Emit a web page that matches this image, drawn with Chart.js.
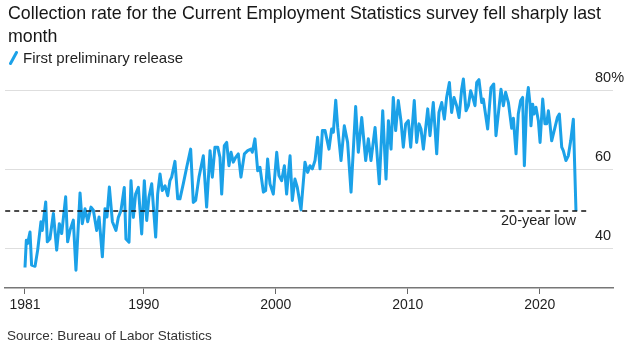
<!DOCTYPE html>
<html>
<head>
<meta charset="utf-8">
<script src="https://cdn.jsdelivr.net/npm/chart.js@4.4.1/dist/chart.umd.min.js"></script>
<style>
  html, body { margin: 0; padding: 0; background: #fff; }
  body { width: 629px; height: 348px; position: relative; overflow: hidden;
         font-family: "Liberation Sans", Arial, sans-serif; color: #1b1b1b; }
  #chart { position: absolute; left: 0; top: 0; }
  #title { position: absolute; left: 8px; top: 2px; width: 612px; font-size: 17.8px; line-height: 23px; color: #161616; }
  #legend { position: absolute; left: 9px; top: 49px; font-size: 15px; line-height: 18px; color: #1f1f1f; display: flex; align-items: center; }
  #legend svg { margin-right: 5px; }
  #source { position: absolute; left: 7px; top: 328px; font-size: 13.5px; line-height: 16px; color: #333; }
</style>
</head>
<body>
<canvas id="chart" width="629" height="348"></canvas>
<div id="title">Collection rate for the Current Employment Statistics survey fell sharply last month</div>
<div id="legend"><svg width="9" height="14" viewBox="0 0 9 14"><line x1="1.5" y1="12.5" x2="7.5" y2="1.5" stroke="#1ba1e8" stroke-width="3" stroke-linecap="round"/></svg><span>First preliminary release</span></div>
<div id="source">Source: Bureau of Labor Statistics</div>
<script>
// ---- Data ----
const years = [
  1981.00,1981.10,1981.20,1981.38,1981.50,1981.76,1981.96,1982.21,1982.31,1982.57,1982.69,1982.89,
  1983.15,1983.40,1983.60,1983.78,1984.08,1984.23,1984.41,1984.66,1984.86,1985.17,1985.34,1985.55,
  1985.75,1986.00,1986.18,1986.43,1986.61,1986.86,1987.06,1987.21,1987.39,1987.62,1987.89,
  1988.07,1988.27,1988.52,1988.65,1988.88,1989.03,1989.21,1989.38,1989.59,1989.84,1990.04,1990.22,
  1990.39,1990.60,1990.90,1991.05,1991.23,1991.40,1991.61,1991.81,1991.98,1992.11,1992.36,1992.57,
  1992.74,1992.99,1993.25,1993.55,1993.75,1993.93,1994.18,1994.51,1994.76,1995.02,1995.19,1995.39,
  1995.60,1995.77,1995.90,1996.10,1996.28,1996.45,1996.61,1996.78,1996.96,1997.16,1997.36,1997.62,
  1997.87,1998.12,1998.22,1998.42,1998.63,1998.80,1999.06,1999.23,1999.38,1999.56,1999.81,2000.07,
  2000.24,2000.44,2000.65,2000.82,2001.08,2001.25,2001.45,2001.63,2001.91,2002.21,2002.41,2002.59,
  2002.77,2002.97,
  2003.17,2003.35,2003.53,2003.73,2004.03,2004.23,2004.36,2004.54,2004.69,2004.94,2005.19,2005.44,
  2005.70,2006.05,2006.25,2006.51,2006.81,2007.01,2007.21,2007.52,2007.84,2008.10,2008.35,2008.53,
  2008.73,2008.90,2009.08,2009.28,2009.48,2009.66,2009.84,2010.04,2010.22,2010.49,
  2010.67,2010.85,2011.00,2011.18,2011.51,2011.68,2011.93,2012.19,2012.36,2012.57,2012.77,2012.94,
  2013.15,2013.32,2013.50,2013.70,2013.88,2014.08,2014.21,2014.41,2014.59,2014.76,2014.96,2015.09,
  2015.22,2015.39,2015.60,2015.72,2016.05,2016.30,2016.51,2016.68,2017.06,2017.24,2017.41,2017.62,
  2017.87,2018.00,2018.20,2018.37,2018.55,2018.70,2018.83,2019.01,2019.13,2019.26,2019.33,2019.46,
  2019.56,2019.71,2019.89,2020.02,2020.22,2020.39,2020.52,2020.65,2020.77,2020.90,2021.15,2021.33,
  2021.48,2021.66,2021.78,2021.98,2022.16,2022.34,2022.54,2022.74
];
const rates = [
  35.2,42.1,41.3,44.2,35.8,35.5,39.6,46.8,44.6,51.8,41.7,42.5,
  48.9,39.6,46.3,43.8,53.1,41.7,44.6,47.2,34.5,54.1,46.3,50.1,
  46.8,50.5,49.7,44.6,48.0,37.9,50.1,48.0,55.6,46.8,44.6,
  47.9,49.6,55.5,42.4,41.6,57.2,47.9,53.8,55.5,43.7,57.2,47.1,
  53.0,56.4,42.9,53.8,58.9,54.7,55.9,53.4,57.2,58.1,62.1,52.6,
  52.6,56.4,60.6,65.2,51.7,52.2,58.1,63.5,50.5,64.8,58.1,65.7,
  65.7,63.1,53.8,66.1,66.9,61.0,64.4,61.9,63.1,64.0,58.1,64.0,
  64.8,65.2,64.4,67.8,59.7,60.6,54.3,54.7,62.7,56.4,53.8,64.4,
  58.5,57.2,61.0,53.8,63.5,52.2,57.6,55.5,49.8,61.9,59.3,61.0,
  60.2,62.3,
  68.2,60.2,69.9,69.9,65.2,70.3,69.5,77.6,70.7,62.3,71.1,66.9,
  54.3,76.0,64.4,73.2,62.3,67.8,62.3,70.7,56.4,74.9,57.6,72.4,
  65.2,78.3,69.9,77.5,72.4,65.7,71.6,72.4,65.7,77.5,
  66.9,71.6,70.3,65.2,75.4,68.6,77.0,64.0,74.5,77.0,72.8,78.3,
  82.1,74.5,78.3,76.2,73.2,80.4,83.0,74.9,76.2,80.0,77.9,76.2,
  82.1,82.8,77.0,77.9,70.3,80.8,81.7,68.6,80.4,76.2,79.6,77.0,
  70.5,73.0,64.0,74.1,77.5,78.3,61.0,77.5,80.8,76.6,71.1,76.6,
  74.1,75.8,72.4,66.9,77.9,71.6,71.6,74.9,71.6,67.3,70.7,73.2,
  74.1,65.7,64.8,62.3,63.5,67.3,72.8,49.5
];
const xTickYears = [1981, 1990, 2000, 2010, 2020];
const yTickValues = [40, 60, 80];
const lowLineYears = [1979.5, 2023.8];
const lowLabelText = "20-year low";

// ---- Chart ----
const FONT = '"Liberation Sans", Arial, sans-serif';
const lowValue = rates[rates.length - 1];
const yLabel = v => v === 80 ? '80%' : String(v);

const overlayText = {
  id: 'overlayText',
  afterDraw(chart) {
    const { ctx, scales: { x, y } } = chart;
    ctx.save();
    ctx.font = '14.5px ' + FONT;
    ctx.fillStyle = '#1f1f1f';
    ctx.textBaseline = 'middle';
    // right-side value labels, sitting above their gridlines
    ctx.textAlign = 'left';
    y.ticks.forEach(t => {
      ctx.fillText(yLabel(t.value), chart.chartArea.right - 18, y.getPixelForValue(t.value) - 13);
    });
    // "20-year low" annotation under the dashed line
    ctx.textAlign = 'right';
    ctx.fillText(lowLabelText, x.getPixelForValue(years[years.length - 1]), y.getPixelForValue(lowValue) + 10);
    ctx.restore();
  }
};

new Chart(document.getElementById('chart'), {
  type: 'line',
  data: {
    datasets: [
      {
        data: lowLineYears.map(v => ({ x: v, y: lowValue })),
        borderColor: '#111', borderWidth: 1.5, borderDash: [5, 4],
        pointRadius: 0, order: 0
      },
      {
        data: years.map((v, i) => ({ x: v, y: rates[i] })),
        borderColor: 'rgb(27,161,232)', borderWidth: 3, borderJoinStyle: 'round',
        pointRadius: 0, tension: 0, order: 1
      }
    ]
  },
  options: {
    responsive: false,
    animation: false,
    layout: { padding: { left: 5, top: 71, right: 0, bottom: 30 } },
    plugins: { legend: { display: false }, tooltip: { enabled: false } },
    scales: {
      x: {
        type: 'linear', min: 1979.485, max: 2025.545,
        afterBuildTicks: s => { s.ticks = xTickYears.map(v => ({ value: v })); },
        afterFit: s => { s.height = 30; },
        grid: { drawOnChartArea: false, drawTicks: true, tickLength: 6, color: '#666', lineWidth: 1 },
        border: { display: true, color: '#777', width: 1.5 },
        ticks: { padding: 3, color: '#1f1f1f', font: { size: 14, family: FONT },
                 maxRotation: 0, autoSkip: false, callback: v => String(v) }
      },
      y: {
        position: 'right', min: 30, max: 85,
        afterBuildTicks: s => { s.ticks = yTickValues.map(v => ({ value: v })); },
        afterFit: s => { s.width = 16; },
        grid: { color: '#dedede', lineWidth: 1, drawTicks: false },
        border: { display: false },
        ticks: { display: false }
      }
    }
  },
  plugins: [overlayText]
});
</script>
</body>
</html>
